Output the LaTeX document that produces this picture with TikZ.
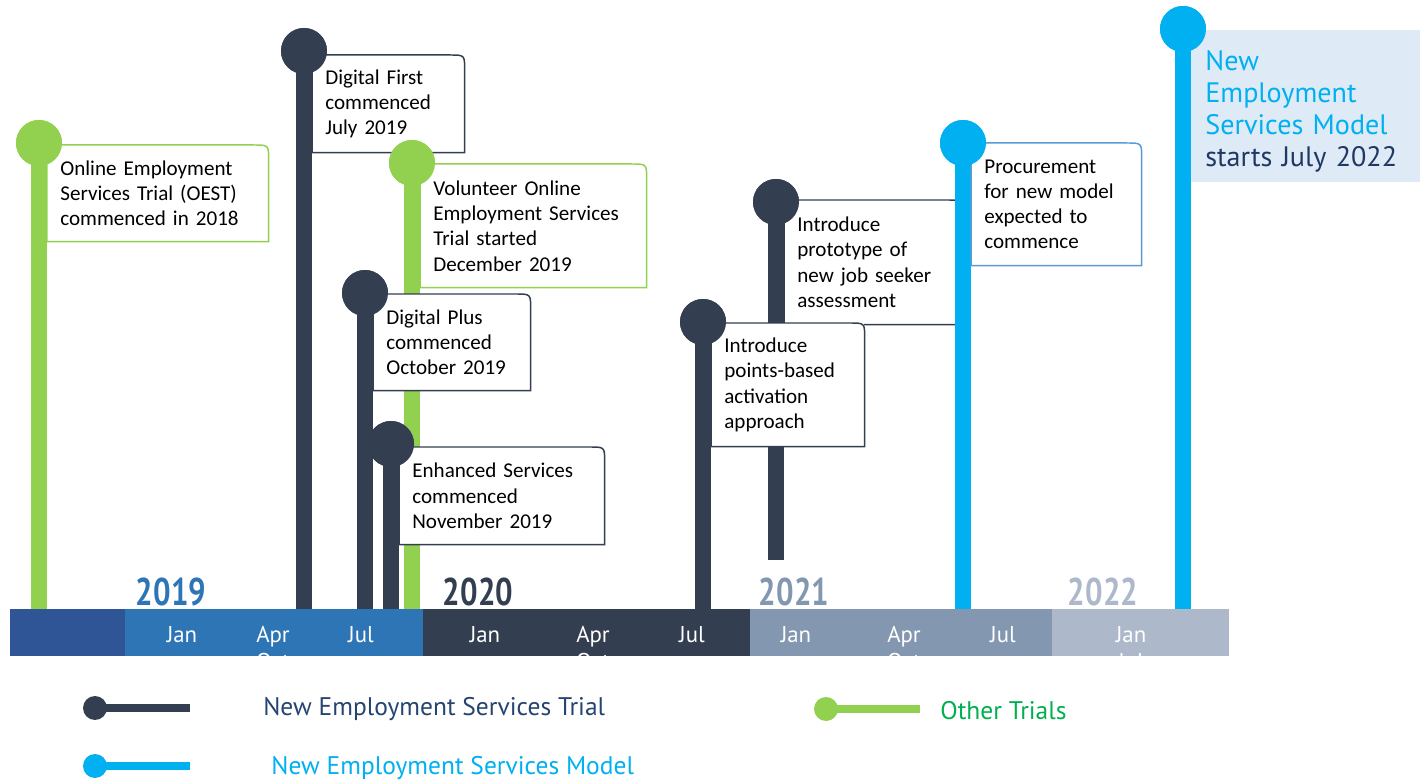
\documentclass[tikz,border=0pt]{standalone}
\usepackage{fontspec}
\setmainfont{Carlito}
\newfontfamily\dinfont{PT Sans}
\newfontfamily\yearfont[FakeStretch=0.8]{PT Sans}
\usetikzlibrary{positioning}

\definecolor{trialdark}{HTML}{333F50}
\definecolor{othergreen}{HTML}{92D050}
\definecolor{modelcyan}{HTML}{00B0F0}
\definecolor{procblue}{HTML}{5B9BD5}
\definecolor{modelfill}{HTML}{DEEAF6}
\definecolor{navytext}{HTML}{203864}
\definecolor{legendnavy}{HTML}{254470}
\definecolor{legendgreen}{HTML}{00B050}
\definecolor{seg0}{HTML}{2F5597}
\definecolor{seg1}{HTML}{2E75B6}
\definecolor{seg2}{HTML}{333F50}
\definecolor{seg3}{HTML}{8497B0}
\definecolor{seg4}{HTML}{ADB9CA}

\tikzset{
  dot/.style={circle, fill=#1, inner sep=0pt, minimum size=0.92cm},
  smalldot/.style={circle, fill=#1, inner sep=0pt, minimum size=0.48cm},
  stem/.style={draw=#1, line width=0.32cm},
  legline/.style={draw=#1, line width=0.16cm},
  evbox/.style={
    fill=white, anchor=north west, align=left, inner xsep=0.26cm, inner ysep=0pt,
    font=\fontsize{12}{14.4}\selectfont
  },
  frame/.style={draw=#1, line width=0.85pt},
  month/.style={text=white, anchor=base, font=\dinfont\fontsize{13}{15}\selectfont},
  year/.style={anchor=base, font=\yearfont\bfseries\fontsize{22}{24}\selectfont},
  legtext/.style={anchor=west, inner sep=0pt, font=\dinfont\fontsize{14.5}{17}\selectfont}
}

% outline with one rounded corner (top right)
\newcommand{\evframe}[2]{%
  \draw[frame=#2] (#1.south west) -- (#1.north west) -- ([xshift=-0.3cm]#1.north east)
    .. controls (#1.north east) .. ([yshift=-0.3cm]#1.north east) -- (#1.south east) -- cycle;}

\begin{document}
\begin{tikzpicture}[x=0.02cm, y=-0.02cm]
    \useasboundingbox (0,0) rectangle (1420,780);

    % Time bar
    \fill[seg0] (10,609) rectangle (125,656);
    \fill[seg1] (125,609) rectangle (423,656);
    \fill[seg2] (423,609) rectangle (750,656);
    \fill[seg3] (750,609) rectangle (1052,656);
    \fill[seg4] (1052,609) rectangle (1229,656);

    \begin{scope}
      \clip (10,609) rectangle (1229,656);
      \foreach \x/\m [count=\i] in {182/Jan, 273/Apr, 361/Jul, 485/Jan, 593/Apr, 692/Jul,
                                    796/Jan, 904/Apr, 1003/Jul, 1131/Jan}
        \node[month] (mon\i) at (\x,642) {\m};
      \foreach \x/\m [count=\i] in {273/Oct, 593/Oct, 904/Oct, 1131/Jul}
        \node[month] (sub\i) at (\x,669) {\m};
    \end{scope}

    % Years
    \node[year, text=seg1] (y2019) at (171,605) {2019};
    \node[year, text=seg2] (y2020) at (478,605) {2020};
    \node[year, text=seg3] (y2021) at (794,605) {2021};
    \node[year, text=seg4] (y2022) at (1103,605) {2022};

    % Online Employment Services Trial
    \coordinate (oestbase) at (39,609);
    \node[dot=othergreen] (oestdot) at (39,143) {};
    \draw[stem=othergreen] (oestdot.center) -- (oestbase);
    \node[evbox, text width=3.9cm, minimum height=1.92cm] (oest) at (47,145)
      {Online Employment\\Services Trial (OEST)\\commenced in 2018};
    \evframe{oest}{othergreen}
    \node[dot=othergreen] at (oestdot) {};

    % Digital First
    \coordinate (dfbase) at (304,609);
    \node[dot=trialdark] (dfdot) at (304,51) {};
    \draw[stem=trialdark] (dfdot.center) -- (dfbase);
    \node[evbox, text width=2.52cm, minimum height=1.94cm] (df) at (312,55)
      {Digital First\\commenced\\July 2019};
    \evframe{df}{trialdark}
    \node[dot=trialdark] at (dfdot) {};

    % Volunteer Online Employment Services Trial
    \coordinate (voestbase) at (412,609);
    \node[dot=othergreen] (voestdot) at (412,163) {};
    \draw[stem=othergreen] (voestdot.center) -- (voestbase);
    \node[evbox, text width=4cm, minimum height=2.46cm] (voest) at (420,164)
      {Volunteer Online\\Employment Services\\Trial started\\December 2019};
    \evframe{voest}{othergreen}
    \node[dot=othergreen] at (voestdot) {};

    % Digital Plus
    \coordinate (dpbase) at (365,609);
    \node[dot=trialdark] (dpdot) at (365,293) {};
    \draw[stem=trialdark] (dpdot.center) -- (dpbase);
    \node[evbox, text width=2.62cm, minimum height=1.92cm] (dp) at (373,294)
      {Digital Plus\\commenced\\October 2019};
    \evframe{dp}{trialdark}
    \node[dot=trialdark] at (dpdot) {};

    % Enhanced Services
    \coordinate (esbase) at (391,609);
    \node[dot=trialdark] (esdot) at (391,444) {};
    \draw[stem=trialdark] (esdot.center) -- (esbase);
    \node[evbox, text width=3.58cm, minimum height=1.94cm] (es) at (399,447)
      {Enhanced Services\\commenced\\November 2019};
    \evframe{es}{trialdark}
    \node[dot=trialdark] at (esdot) {};

    % Job seeker assessment prototype
    \coordinate (jsabase) at (776,560);
    \node[dot=trialdark] (jsadot) at (776,202) {};
    \draw[stem=trialdark] (jsadot.center) -- (jsabase);
    \node[evbox, text width=3.02cm, minimum height=2.48cm] (jsa) at (784,200)
      {Introduce\\prototype of\\new job seeker\\assessment};
    \evframe{jsa}{trialdark}
    \node[dot=trialdark] at (jsadot) {};

    % Points-based activation
    \coordinate (pbabase) at (703,609);
    \node[dot=trialdark] (pbadot) at (703,322) {};
    \draw[stem=trialdark] (pbadot.center) -- (pbabase);
    \node[evbox, text width=2.54cm, minimum height=2.46cm] (pba) at (711,323)
      {Introduce\\points-based\\activation\\approach};
    \evframe{pba}{trialdark}
    \node[dot=trialdark] at (pbadot) {};

    % Procurement
    \coordinate (procbase) at (963,609);
    \node[dot=modelcyan] (procdot) at (963,143) {};
    \draw[stem=modelcyan] (procdot.center) -- (procbase);
    \node[evbox, text width=2.88cm, minimum height=2.44cm] (proc) at (971,143)
      {Procurement\\for new model\\expected to\\commence};
    \evframe{proc}{procblue}
    \node[dot=modelcyan] at (procdot) {};

    % New Employment Services Model
    \coordinate (nesmbase) at (1183,609);
    \node[dot=modelcyan] (nesmdot) at (1183,29) {};
    \draw[stem=modelcyan] (nesmdot.center) -- (nesmbase);
    \node[evbox, fill=modelfill, text width=4.06cm, minimum height=3.04cm, inner xsep=0.28cm,
          font=\dinfont\fontsize{16}{18.1}\selectfont] (nesm) at (1191,30)
      {\rule{0pt}{17pt}\textcolor{modelcyan}{New}\\\textcolor{modelcyan}{Employment}\\
       \textcolor{modelcyan}{Services Model}\\\textcolor{navytext}{starts July 2022}};
    \node[dot=modelcyan] at (nesmdot) {};

    % Legend
    \coordinate (lgtrialend) at (190,708);
    \node[smalldot=trialdark] (lgtrial) at (95,708) {};
    \draw[legline=trialdark] (lgtrial.center) -- (lgtrialend);
    \node[legtext, text=legendnavy] (lgtrialtxt) at (263,709) {New Employment Services Trial};

    \coordinate (lgmodelend) at (190,766);
    \node[smalldot=modelcyan] (lgmodel) at (95,766) {};
    \draw[legline=modelcyan] (lgmodel.center) -- (lgmodelend);
    \node[legtext, text=modelcyan] (lgmodeltxt) at (271,768) {New Employment Services Model};

    \coordinate (lgotherend) at (920,709);
    \node[smalldot=othergreen] (lgother) at (826,709) {};
    \draw[legline=othergreen] (lgother.center) -- (lgotherend);
    \node[legtext, text=legendgreen] (lgothertxt) at (940,711) {Other Trials};
\end{tikzpicture}
\end{document}
